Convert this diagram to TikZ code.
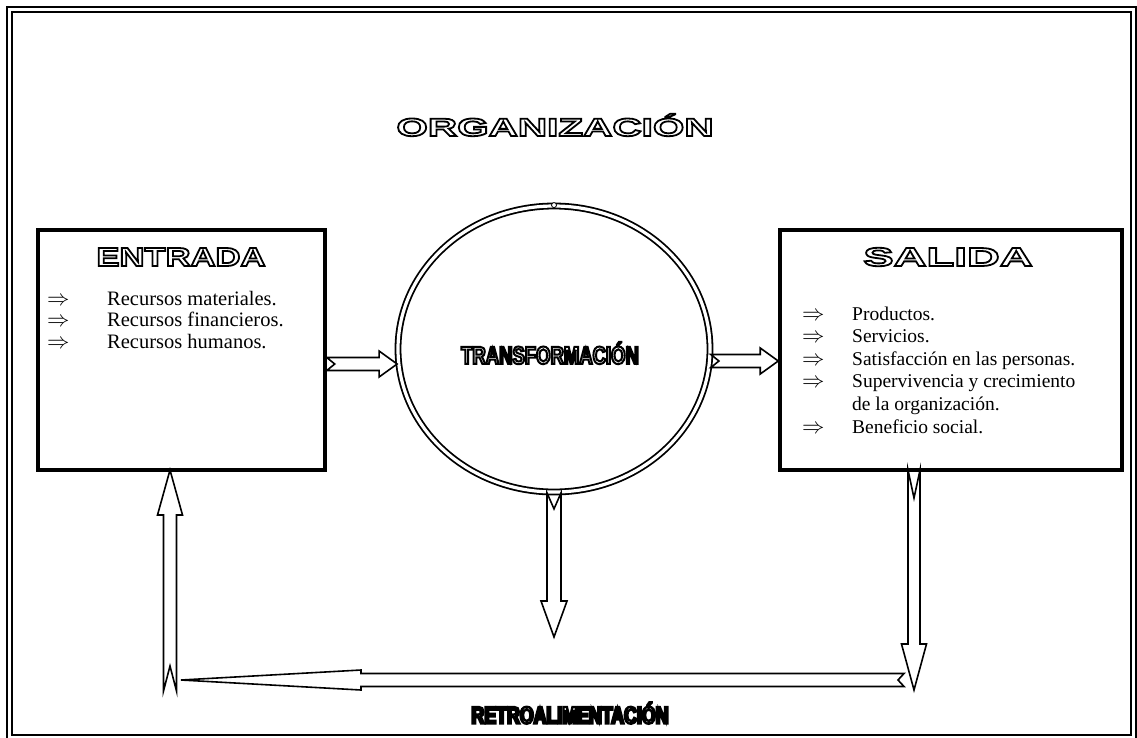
\documentclass[tikz,border=0pt]{standalone}
\usepackage{fontspec}
\setmainfont{Liberation Serif}
\usetikzlibrary{shapes.geometric,calc}
\newfontfamily\orgfont[FakeStretch=1.62]{Liberation Sans}
\newfontfamily\entfont[FakeStretch=1.33]{Liberation Sans}
\newfontfamily\salfont[FakeStretch=1.75]{Liberation Sans}
\newfontfamily\narfont[FakeStretch=0.74]{Liberation Sans}
\newcommand\outl[2]{\special{pdf:literal direct #1 w 0 j 1 Tr}#2\special{pdf:literal direct 0 Tr}}
\newcommand\bul{\scalebox{1.08}{$\Rightarrow$}}
% block arrows: #1 from, #2 to, #3 shaft half, #4 head half, #5 head length, #6 notch
\newcommand\harr[6]{%
 \draw[barrow] let \p1=(#1), \p2=(#2), \n1={sign(\x2-\x1)} in
  ({\x1},{\y1+#3}) -- ({\x2-\n1*#5},{\y1+#3}) -- ({\x2-\n1*#5},{\y1+#4}) -- ({\x2},{\y1})
  -- ({\x2-\n1*#5},{\y1-#4}) -- ({\x2-\n1*#5},{\y1-#3}) -- ({\x1},{\y1-#3}) -- ({\x1+\n1*#6},{\y1}) -- cycle;}
\newcommand\varr[6]{%
 \draw[barrow] let \p1=(#1), \p2=(#2), \n1={sign(\y2-\y1)} in
  ({\x1+#3},{\y1}) -- ({\x1+#3},{\y2-\n1*#5}) -- ({\x1+#4},{\y2-\n1*#5}) -- ({\x1},{\y2})
  -- ({\x1-#4},{\y2-\n1*#5}) -- ({\x1-#3},{\y2-\n1*#5}) -- ({\x1-#3},{\y1}) -- ({\x1},{\y1+\n1*#6}) -- cycle;}
\begin{document}
\begin{tikzpicture}[x=1pt,y=-1pt,
  box/.style={draw, line width=3.5pt, fill=white, inner sep=0pt},
  barrow/.style={draw, line width=1.6pt, fill=white, line join=miter},
  frame/.style={draw, line width=2.2pt},
  listtxt/.style={align=left, inner sep=0pt}]
\useasboundingbox (0,0) rectangle (1137,737);
% frame
\draw[frame] (7,7) rectangle (1136,741);
\draw[frame] (12,12) rectangle (1131,735);
% title
\node (org) at (555,125) {\orgfont\bfseries\fontsize{25}{25}\selectfont\outl{1.8}{ORGANIZACIÓN}};
% boxes
\node[box, minimum width=287pt, minimum height=240pt] (ent) at (181.5,350) {};
\node[box, minimum width=342pt, minimum height=240pt] (sal) at (951,350) {};
\node[ellipse, draw, line width=1.8pt, double, double distance=3.2pt, minimum width=312pt, minimum height=286pt, inner sep=0pt] (tr) at (554,349) {};
\node[circle, draw, line width=0.8pt, fill=white, inner sep=0pt, minimum size=5pt] (dot) at (tr.north) {};
% titles in boxes
\node (entt) at (181,257) {\entfont\bfseries\fontsize{26}{26}\selectfont\outl{1.8}{ENTRADA}};
\node (salt) at (948,257) {\salfont\bfseries\fontsize{26}{26}\selectfont\outl{1.8}{SALIDA}};
\node (trt) at (550,353) {\narfont\bfseries\fontsize{25}{25}\selectfont\outl{2}{TRANSFORMACIÓN}};
\node (ret) at (570,713) {\narfont\bfseries\fontsize{24}{24}\selectfont\outl{2.4}{RETROALIMENTACIÓN}};
% lists
\node[listtxt, anchor=west, font=\fontsize{20.5}{21.8}\selectfont] (entl) at (47,320) {%
\makebox[60pt][l]{\bul}Recursos materiales.\\
\makebox[60pt][l]{\bul}Recursos financieros.\\
\makebox[60pt][l]{\bul}Recursos humanos.};
\node[listtxt, anchor=west, font=\fontsize{19.5}{22.6}\selectfont] (sall) at (802,370) {%
\makebox[50pt][l]{\bul}Productos.\\
\makebox[50pt][l]{\bul}Servicios.\\
\makebox[50pt][l]{\bul}Satisfacción en las personas.\\
\makebox[50pt][l]{\bul}Supervivencia y crecimiento\\
\hspace*{50pt}de la organización.\\
\makebox[50pt][l]{\bul}Beneficio social.};
% coordinates
\coordinate (a1s) at ($(ent.east)+(0,14)$);
\coordinate (a1e) at ($(tr.west)+(0,14)$);
\coordinate (a2s) at ($(tr.east)+(0,12)$);
\coordinate (a2e) at ($(sal.west)+(0,12)$);
\coordinate (m1) at (554,637);
\coordinate (rs) at (914,470);
\coordinate (re) at (914,690);
\coordinate (lb) at (170,691);
\coordinate (lt) at (170,470);
\coordinate (hs) at (904,680);
\coordinate (he) at (181,680);
% arrows
\harr{a1s}{a1e}{6.5pt}{13pt}{18pt}{8pt}
\harr{a2s}{a2e}{6.5pt}{13pt}{18pt}{8pt}
\varr{tr.south}{m1}{7pt}{13pt}{36pt}{16pt}
\varr{rs}{re}{6pt}{12.5pt}{46pt}{28pt}
\varr{lb}{lt}{6.5pt}{12.5pt}{45pt}{25pt}
\harr{hs}{he}{6.5pt}{10pt}{180pt}{6pt}
\end{tikzpicture}
\end{document}
